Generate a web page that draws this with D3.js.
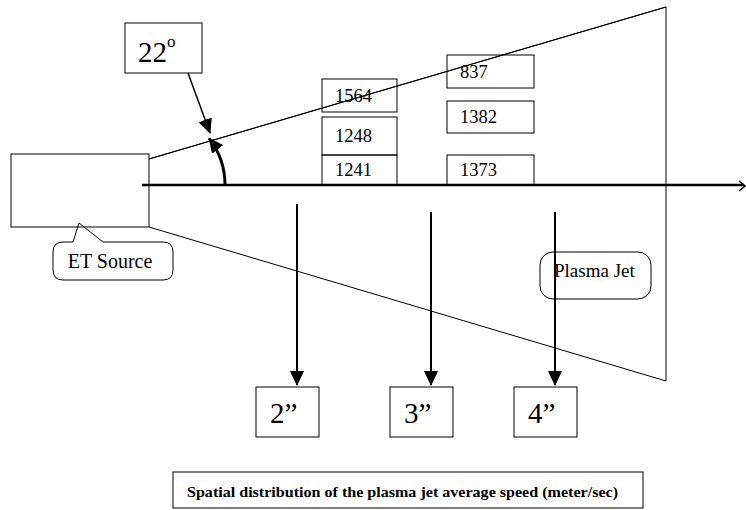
<!DOCTYPE html>
<html>
<head>
<meta charset="utf-8">
<script src="https://cdn.jsdelivr.net/npm/d3@7"></script>
<style>
  body { margin: 0; background: #fff; }
  svg { display: block; }
  text { font-family: "Liberation Serif", "DejaVu Serif", serif; fill: #000; }
  .thin { stroke: #000; stroke-width: 1; fill: none; }
</style>
</head>
<body>
<svg id="chart" width="746" height="510"></svg>
<script>
// ---- data ----
var distances = ["2\u201D", "3\u201D", "4\u201D"];          // measuring planes
var speedColumns = ["near", "far"];                          // two columns of readings
var speedsNear = [1564, 1248, 1241];                         // m/s, top to bottom
var speedsFar = [837, 1382, 1373];                           // m/s, top to bottom
var coneAngle = 22;                                          // degrees
var sourceLabel = "ET Source";
var jetLabel = "Plasma Jet";
var caption = "Spatial distribution of the plasma jet average speed (meter/sec)";

// ---- layout ----
var svg = d3.select("#chart");
var axisY = 185;

// where each distance arrow drops
var xDist = d3.scaleOrdinal().domain(distances).range([297, 431, 555]);
// columns of speed boxes
var xCol = d3.scaleOrdinal().domain(speedColumns).range([322, 447]);
var colWidth = {near: 75, far: 87};
// box tops/bottoms per row, per column
var rowTops = {near: [79, 117, 155], far: [55, 101, 155]};
var rowBottoms = {near: [112, 155, 185], far: [88, 133, 185]};

var defs = svg.append("defs");
// filled arrowhead, tip to the right
defs.append("marker")
    .attr("id", "headR")
    .attr("viewBox", "0 0 16 14")
    .attr("refX", 14).attr("refY", 7)
    .attr("markerWidth", 16).attr("markerHeight", 14)
    .attr("markerUnits", "userSpaceOnUse")
    .attr("orient", "auto")
  .append("path")
    .attr("d", "M0,0 L15,7 L0,14 Z")
    .attr("fill", "#000");

// ET source box
var src = {x0: 11, x1: 149, y0: 154, y1: 227};
svg.append("rect")
    .attr("class", "thin")
    .attr("x", src.x0).attr("y", src.y0)
    .attr("width", src.x1 - src.x0).attr("height", src.y1 - src.y0);

// jet cone
var coneEnd = 666;
svg.append("path")
    .attr("class", "thin")
    .attr("d", d3.line()([[src.x1, 159], [coneEnd, 7], [coneEnd, 381], [src.x1, src.y1]]));

// centre axis
svg.append("line")
    .attr("x1", 142).attr("x2", 744)
    .attr("y1", axisY).attr("y2", axisY)
    .attr("stroke", "#000").attr("stroke-width", 2.5);
svg.append("path")
    .attr("d", "M739,181 L745,186 L739,191")
    .attr("fill", "none").attr("stroke", "#000").attr("stroke-width", 1.5);

// speed boxes
function drawColumn(col, values) {
  var g = svg.append("g").attr("class", "col-" + col);
  var x0 = xCol(col);
  var sel = g.selectAll("g").data(values).enter().append("g");
  sel.append("rect")
      .attr("class", "thin")
      .attr("x", x0)
      .attr("y", function(d, i) { return rowTops[col][i]; })
      .attr("width", colWidth[col])
      .attr("height", function(d, i) { return rowBottoms[col][i] - rowTops[col][i]; });
  sel.append("text")
      .attr("x", x0 + 13)
      .attr("y", function(d, i) { return rowTops[col][i] + (rowBottoms[col][i] - rowTops[col][i]) / 2 + 6; })
      .attr("font-size", 18.5)
      .text(function(d) { return d; });
}
drawColumn("near", speedsNear);
drawColumn("far", speedsFar);

// cone edge is drawn over the boxes in the original
svg.append("line")
    .attr("class", "thin")
    .attr("x1", src.x1).attr("y1", 159).attr("x2", coneEnd).attr("y2", 7);

// angle arc with arrowhead
var arcR = 76;
var arcPath = d3.path();
arcPath.arc(src.x1, axisY, arcR, 0, -0.66, true);
svg.append("path")
    .attr("d", arcPath.toString())
    .attr("fill", "none").attr("stroke", "#000").attr("stroke-width", 3)
    .attr("marker-end", "url(#headR)");

// angle label box
var ang = {x0: 125, x1: 202, y0: 23, y1: 73};
svg.append("rect")
    .attr("class", "thin")
    .attr("x", ang.x0).attr("y", ang.y0)
    .attr("width", ang.x1 - ang.x0).attr("height", ang.y1 - ang.y0);
var angText = svg.append("text")
    .attr("x", 138).attr("y", 62)
    .attr("font-size", 29);
angText.append("tspan").text(coneAngle);
angText.append("tspan").attr("font-size", 17).attr("dy", -15).text("o");

svg.append("line")
    .attr("x1", 188).attr("y1", ang.y1)
    .attr("x2", 210).attr("y2", 133)
    .attr("stroke", "#000").attr("stroke-width", 1.5)
    .attr("marker-end", "url(#headR)");

// ET Source callout
svg.append("path")
    .attr("class", "thin")
    .attr("fill", "#fff")
    .attr("d", "M63,242 L73,242 L79,223 L103,242 L163,242 Q173,242 173,252 L173,270 Q173,280 163,280 L63,280 Q53,280 53,270 L53,252 Q53,242 63,242 Z");
svg.append("text")
    .attr("x", 110).attr("y", 268)
    .attr("text-anchor", "middle")
    .attr("font-size", 20)
    .text(sourceLabel);

// Plasma Jet callout
svg.append("rect")
    .attr("class", "thin")
    .attr("x", 540).attr("y", 252)
    .attr("width", 111).attr("height", 47)
    .attr("rx", 13);
svg.append("text")
    .attr("x", 554).attr("y", 277)
    .attr("font-size", 19)
    .text(jetLabel);

// distance arrows and boxes
var arrowStart = {"2\u201D": 204, "3\u201D": 212, "4\u201D": 212};
var dist = svg.append("g").selectAll("g").data(distances).enter().append("g");
dist.append("line")
    .attr("x1", function(d) { return xDist(d); })
    .attr("x2", function(d) { return xDist(d); })
    .attr("y1", function(d) { return arrowStart[d]; })
    .attr("y2", 385)
    .attr("stroke", "#000").attr("stroke-width", 2)
    .attr("marker-end", "url(#headR)");
dist.append("rect")
    .attr("class", "thin")
    .attr("x", function(d) { return xDist(d) - 41; })
    .attr("y", 387)
    .attr("width", 63).attr("height", 50);
dist.append("text")
    .attr("x", function(d) { return xDist(d) - 27; })
    .attr("y", 423)
    .attr("font-size", 29)
    .text(function(d) { return d; });

// caption
svg.append("rect")
    .attr("class", "thin")
    .attr("x", 173).attr("y", 472)
    .attr("width", 470).attr("height", 36);
svg.append("text")
    .attr("x", 187).attr("y", 497)
    .attr("font-size", 14.5)
    .attr("font-weight", "bold")
    .attr("textLength", 431)
    .attr("lengthAdjust", "spacingAndGlyphs")
    .text(caption);
</script>
</body>
</html>
